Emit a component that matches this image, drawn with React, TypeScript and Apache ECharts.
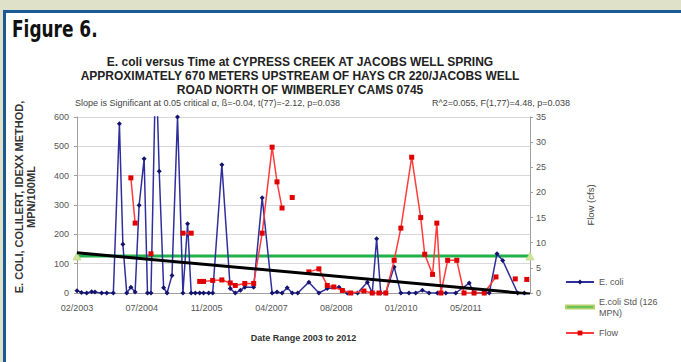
import React, { useEffect, useRef } from "react";
import * as echarts from "echarts";

// ---------- data ----------
const START_DATE = "2003-02-20";
const END_DATE = "2012-10-05";
const TICK_DAYS = 503;

const ecoliDates = [
  "2003-02-20", "2003-03-27", "2003-05-06", "2003-06-14", "2003-07-09", "2003-08-30", "2003-10-09", "2003-11-29",
  "2004-01-15", "2004-02-11", "2004-03-12", "2004-04-13", "2004-05-16", "2004-06-16", "2004-07-25", "2004-08-20",
  "2004-09-16", "2004-10-24", "2004-11-19", "2004-12-23", "2005-01-19", "2005-02-26", "2005-04-10", "2005-05-22",
  "2005-06-27", "2005-07-25", "2005-08-26", "2005-09-29", "2005-10-29", "2005-12-08", "2006-01-08", "2006-03-20",
  "2006-05-24", "2006-07-02", "2006-08-11", "2006-09-14", "2006-11-22", "2007-01-27", "2007-04-14", "2007-05-22",
  "2007-06-30", "2007-08-09", "2007-09-17", "2007-10-30", "2008-01-24", "2008-04-11", "2008-06-15", "2008-09-14",
  "2008-11-18", "2009-02-05", "2009-04-22", "2009-05-30", "2009-07-03", "2009-08-04", "2009-09-12", "2009-11-16",
  "2010-01-07", "2010-03-11", "2010-05-02", "2010-06-23", "2010-08-14", "2010-10-18", "2010-12-22", "2011-03-09",
  "2011-06-21", "2011-07-29", "2011-10-16", "2011-11-24", "2012-01-23", "2012-03-07", "2012-07-01", "2012-08-22",
];
const ecoliValues = [
  8, 2, 0, 4, 3, 0, 0, 0,
  577, 166, 0, 20, 3, 299, 458, 0,
  0, 800, 415, 18, 0, 60, 600, 0,
  236, 0, 0, 0, 0, 0, 0, 437,
  15, 0, 9, 20, 20, 325, 0, 3,
  0, 18, 0, 0, 37, 0, 15, 20,
  0, 0, 37, 0, 185, 0, 0, 89,
  0, 0, 0, 9, 0, 0, 0, 0,
  34, 0, 0, 0, 134, 111, 0, 0,
];

const flowDates = [
  "2004-04-13", "2004-05-16", "2004-07-01", "2004-09-16", "2005-01-01", "2005-05-22", "2005-07-25", "2005-08-26",
  "2005-09-29", "2005-10-29", "2006-01-08", "2006-03-20", "2006-05-24", "2006-07-02", "2006-09-14", "2006-11-22",
  "2007-01-27", "2007-04-14", "2007-05-22", "2007-06-30", "2007-08-09", "2007-09-17", "2007-10-30", "2008-01-24",
  "2008-04-11", "2008-06-15", "2008-08-05", "2008-10-10", "2008-12-14", "2009-03-26", "2009-05-30", "2009-07-21",
  "2009-09-12", "2009-11-16", "2010-01-07", "2010-04-01", "2010-06-10", "2010-07-11", "2010-09-10", "2010-10-13",
  "2010-11-14", "2011-01-05", "2011-03-17", "2011-05-12", "2011-07-29", "2011-10-16", "2012-01-15", "2012-04-01",
  "2012-06-13", "2012-08-01", "2012-09-10",
];
const flowValues: (number | null)[] = [
  22.9, 13.9, null, 7.8, null, 11.9, 11.9, null,
  2.3, 2.3, 2.5, 2.6, 2.0, 1.5, 1.9, 1.9,
  11.9, 29.0, 22.1, 16.9, null, 19.0, null, 4.2,
  4.8, 1.5, 1.2, 0.5, 0, 0.4, 0, 0,
  0, 6.5, 12.9, 27.0, 15.0, 7.7, 3.7, 13.9,
  0, 6.5, 6.5, 0, 0, 0, 3.2, null,
  2.8, null, 2.7,
];

const stdDates = [START_DATE, END_DATE];
const stdValues = [126, 126];
const trendDates = [START_DATE, END_DATE];
const trendValues = [137, -3];

const TITLE_LINES = [
  "E. coli versus Time at CYPRESS CREEK AT JACOBS WELL SPRING",
  "APPROXIMATELY 670 METERS UPSTREAM OF HAYS CR 220/JACOBS WELL",
  "ROAD NORTH OF WIMBERLEY CAMS 0745",
];
const STAT_LEFT = "Slope is Significant at 0.05 critical \u03b1, \u00df=-0.04, t(77)=-2.12, p=0.038";
const STAT_RIGHT = "R^2=0.055, F(1,77)=4.48, p=0.038";
const LEFT_AXIS_NAME = "E. COLI, COLILERT, IDEXX METHOD,\nMPN/100ML";

// ---------- helpers ----------
const DAY = 86400000;
const parse = (s: string) => {
  const [y, m, d] = s.split("-").map(Number);
  return Date.UTC(y, m - 1, d);
};
const T0 = parse(START_DATE);
const toDays = (s: string) => Math.round((parse(s) - T0) / DAY);
const fmt = (v: number) => {
  const dt = new Date(T0 + v * DAY);
  return String(dt.getUTCMonth() + 1).padStart(2, "0") + "/" + dt.getUTCFullYear();
};
const pairs = (dates: string[], vals: (number | null)[]) =>
  dates.map((d, i) => [toDays(d), vals[i] === null ? "-" : vals[i]]);

const FONT = "'Liberation Sans', Arial, sans-serif";

export default function App() {
  const ref = useRef<HTMLDivElement>(null);
  useEffect(() => {
    if (!ref.current) return;
    const chart = echarts.init(ref.current, undefined, { renderer: "svg" });
    const legendText = { fontFamily: FONT, fontSize: 9, color: "#555", lineHeight: 11 };
    chart.setOption({
      animation: false,
      backgroundColor: "transparent",
      textStyle: { fontFamily: FONT },
      title: {
        text: TITLE_LINES.join("\n"),
        left: 300,
        top: 55,
        textAlign: "center",
        padding: 0,
        textStyle: { fontFamily: FONT, fontSize: 12, fontWeight: "bold", color: "#222", lineHeight: 14 },
      },
      graphic: [
        {
          type: "text",
          x: 12,
          y: 29,
          scaleX: 0.82,
          style: {
            text: "Figure 6.",
            fontFamily: "'Liberation Sans Narrow', 'DejaVu Sans Condensed', sans-serif",
            fontWeight: "bold",
            fontSize: 23,
            fill: "#111",
            verticalAlign: "middle",
          },
        },
        {
          type: "text",
          x: 75,
          y: 103,
          style: { text: STAT_LEFT, fontFamily: FONT, fontSize: 9, fill: "#444", verticalAlign: "middle" },
        },
        {
          type: "text",
          x: 570,
          y: 103,
          style: { text: STAT_RIGHT, fontFamily: FONT, fontSize: 9, fill: "#444", align: "right", verticalAlign: "middle" },
        },
        {
          type: "text",
          x: 25,
          y: 197,
          rotation: Math.PI / 2,
          style: {
            text: LEFT_AXIS_NAME,
            fontFamily: FONT,
            fontSize: 11,
            fontWeight: "bold",
            lineHeight: 12,
            fill: "#333",
            align: "center",
            verticalAlign: "middle",
          },
        },
      ],
      grid: { left: 77, right: 151, top: 117, bottom: 69, containLabel: false },
      legend: [
        {
          data: ["E. coli"],
          left: 565,
          top: 276.5,
          padding: 0,
          itemWidth: 28,
          itemHeight: 6,
          textStyle: legendText,
        },
        {
          data: [{ name: "E.coli Std (126 MPN)", icon: "rect", itemStyle: { color: "#1fb24a" } }],
          left: 565,
          top: 290.5,
          padding: 0,
          itemWidth: 28,
          itemHeight: 3,
          formatter: () => "E.coli Std (126\nMPN)",
          textStyle: { ...legendText, padding: [11, 0, 0, 0] },
        },
        {
          data: ["Flow"],
          left: 565,
          top: 327.5,
          padding: 0,
          itemWidth: 28,
          itemHeight: 6,
          textStyle: legendText,
        },
      ],
      xAxis: {
        type: "value",
        min: 0,
        max: toDays(END_DATE),
        interval: TICK_DAYS,
        name: "Date Range 2003 to 2012",
        nameLocation: "middle",
        nameGap: 40,
        nameTextStyle: { fontFamily: FONT, fontSize: 9, fontWeight: "bold", color: "#333" },
        axisLine: { show: true, lineStyle: { color: "#a0a0a0", width: 1 } },
        axisTick: { show: false },
        splitLine: { show: false },
        axisLabel: { formatter: fmt, fontSize: 9, color: "#555", margin: 10, showMaxLabel: false },
      },
      yAxis: [
        {
          type: "value",
          min: 0,
          max: 600,
          interval: 100,
          axisLine: { show: true, lineStyle: { color: "#a0a0a0" } },
          axisTick: { show: true, length: 3, lineStyle: { color: "#a0a0a0" } },
          splitLine: { show: true, lineStyle: { color: "#d8d8d8", width: 1 } },
          axisLabel: { fontSize: 9, color: "#555", margin: 8 },
        },
        {
          type: "value",
          min: 0,
          max: 35,
          interval: 5,
          position: "right",
          name: "Flow (cfs)",
          nameLocation: "middle",
          nameRotate: 90,
          nameGap: 55,
          nameTextStyle: { fontFamily: FONT, fontSize: 9.5, color: "#444" },
          axisLine: { show: true, lineStyle: { color: "#a0a0a0" } },
          axisTick: { show: true, length: 3, lineStyle: { color: "#a0a0a0" } },
          splitLine: { show: false },
          axisLabel: { fontSize: 9, color: "#555", margin: 6 },
        },
      ],
      series: [
        {
          name: "E. coli",
          type: "line",
          yAxisIndex: 0,
          data: pairs(ecoliDates, ecoliValues),
          clip: true,
          symbol: "diamond",
          symbolSize: 5,
          lineStyle: { color: "#2f2f9c", width: 1.5 },
          itemStyle: { color: "#14146e" },
          z: 3,
        },
        {
          name: "E.coli Std (126 MPN)",
          type: "line",
          yAxisIndex: 0,
          data: pairs(stdDates, stdValues),
          symbol: "triangle",
          symbolSize: 8,
          lineStyle: { color: "#1fb24a", width: 3 },
          itemStyle: { color: "#cfe59a", borderColor: "#b5d16a", borderWidth: 0.5 },
          z: 2,
        },
        {
          name: "Flow",
          type: "line",
          yAxisIndex: 1,
          data: pairs(flowDates, flowValues),
          connectNulls: false,
          clip: true,
          symbol: "rect",
          symbolSize: 5,
          lineStyle: { color: "#ff3b3b", width: 1.5 },
          itemStyle: { color: "#e00000" },
          z: 4,
        },
        {
          name: "Trend",
          type: "line",
          yAxisIndex: 0,
          data: pairs(trendDates, trendValues),
          clip: true,
          symbol: "none",
          lineStyle: { color: "#000", width: 3 },
          z: 5,
        },
      ],
    });
    return () => chart.dispose();
  }, []);

  return (
    <div
      style={{
        position: "fixed",
        left: 0,
        top: 0,
        width: 681,
        height: 362,
        background: "#dfe2c9",
        overflow: "hidden",
      }}
    >
      <div
        style={{
          position: "absolute",
          left: 3,
          top: 10,
          right: 0,
          bottom: 0,
          background: "#ffffff",
          borderLeft: "3px solid #1c5a96",
          borderTop: "3px solid #1c5a96",
        }}
      />
      <div ref={ref} style={{ position: "absolute", left: 0, top: 0, width: 681, height: 362 }} />
    </div>
  );
}
